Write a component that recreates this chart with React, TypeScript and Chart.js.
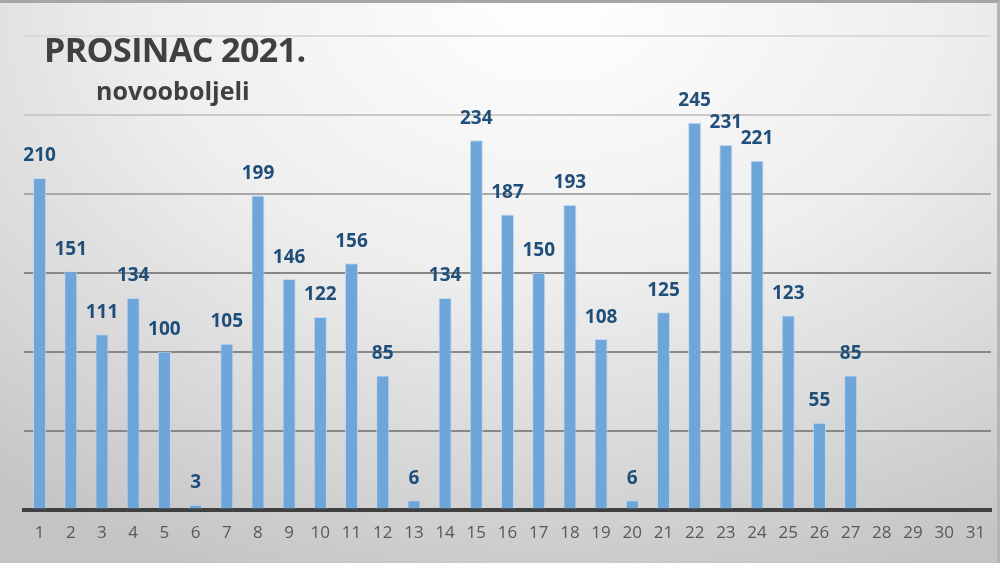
import React, { useEffect, useRef } from "react";
import { Chart, registerables } from "chart.js";

Chart.register(...registerables);

const days: string[] = Array.from({ length: 31 }, (_, i) => String(i + 1));
const newCases: (number | null)[] = [
  210, 151, 111, 134, 100, 3, 105, 199, 146, 122, 156, 85, 6, 134, 234, 187,
  150, 193, 108, 6, 125, 245, 231, 221, 123, 55, 85, null, null, null, null,
];
const yTicks: number[] = [0, 50, 100, 150, 200, 250, 300];
const titleText = "PROSINAC 2021.";
const subtitleText = "novooboljeli";

const gridColorFor = (v: number): string => {
  if (v >= 300) return "#dadada";
  if (v >= 250) return "#c9c9c9";
  if (v >= 200) return "#a8a8a8";
  return "#878787";
};

const labelPlugin = {
  id: "valueLabels",
  afterDatasetsDraw(chart: any) {
    const ctx = chart.ctx;
    const meta = chart.getDatasetMeta(0);
    ctx.save();
    ctx.font = "bold 19px 'Open Sans', 'Liberation Sans', sans-serif";
    ctx.fillStyle = "#1f4e79";
    ctx.textAlign = "center";
    ctx.textBaseline = "middle";
    meta.data.forEach((el: any, i: number) => {
      const v = newCases[i];
      if (v === null || v === undefined) return;
      ctx.fillText(String(v), el.x, el.y - 22);
    });
    ctx.restore();
  },
};

export default function App() {
  const ref = useRef<HTMLCanvasElement | null>(null);
  useEffect(() => {
    document.body.style.margin = "0";
    if (!ref.current) return;
    const chart = new Chart(ref.current, {
      type: "bar",
      data: {
        labels: days,
        datasets: [
          {
            data: newCases as any,
            backgroundColor: "#6fa6da",
            borderColor: "rgba(190,215,240,0.9)",
            borderWidth: 1,
            barPercentage: 0.42,
            categoryPercentage: 1,
          },
        ],
      },
      options: {
        animation: false,
        responsive: false,
        maintainAspectRatio: false,
        layout: { padding: { left: 24, right: 6, top: 33, bottom: 15 } },
        plugins: { legend: { display: false }, tooltip: { enabled: false } },
        scales: {
          x: {
            grid: { display: false },
            border: { display: true, color: "#404040", width: 4 },
            ticks: {
              color: "#595959",
              font: { size: 17, family: "'Open Sans', 'Liberation Sans', sans-serif" },
              padding: 5,
              maxRotation: 0,
              autoSkip: false,
            },
          },
          y: {
            min: 0,
            max: 300,
            afterBuildTicks: (axis: any) => {
              axis.ticks = yTicks.map((v) => ({ value: v }));
            },
            ticks: { display: false },
            border: { display: false },
            grid: {
              drawTicks: false,
              lineWidth: 2,
              color: (c: any) => gridColorFor(c.tick ? c.tick.value : 0),
            },
          },
        },
      },
      plugins: [labelPlugin],
    });
    return () => chart.destroy();
  }, []);

  return (
    <div
      style={{
        position: "relative",
        width: 1000,
        height: 563,
        boxSizing: "border-box",
        borderTop: "3px solid #a6a6a6",
        borderRight: "3px solid #b5b5b5",
        background:
          "radial-gradient(ellipse 90% 110% at 55% 0%, #ffffff 0%, #eeeeee 45%, #d4d4d4 80%, #c4c4c4 100%)",
        overflow: "hidden",
      }}
    >
      <canvas
        ref={ref}
        width={997}
        height={560}
        style={{ position: "absolute", left: 0, top: 0 }}
      />
      <div
        style={{
          position: "absolute",
          left: 44,
          top: 24,
          fontFamily: "'Open Sans', 'Liberation Sans', sans-serif",
          fontWeight: 700,
          fontSize: 34,
          color: "#404040",
          letterSpacing: -0.6,
          lineHeight: "44px",
          whiteSpace: "nowrap",
        }}
      >
        {titleText}
      </div>
      <div
        style={{
          position: "absolute",
          left: 96,
          top: 70,
          fontFamily: "'Open Sans', 'Liberation Sans', sans-serif",
          fontWeight: 700,
          fontSize: 25,
          color: "#404040",
          lineHeight: "34px",
          whiteSpace: "nowrap",
        }}
      >
        {subtitleText}
      </div>
    </div>
  );
}
